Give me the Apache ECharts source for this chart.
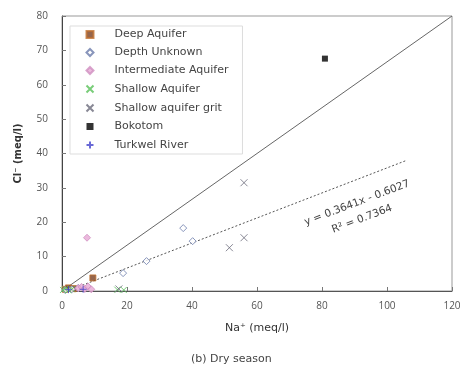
<!DOCTYPE html>
<html><head><meta charset="utf-8">
<script src="https://cdn.jsdelivr.net/npm/echarts@6/dist/echarts.min.js"></script>
<style>html,body{margin:0;padding:0;background:#fff}#c{width:465px;height:373px}</style>
</head><body><div id="c"></div>
<script>
const deepAquifer = [[1,0.5],[2,0.9],[3.5,0.7],[9.5,3.8]];
const depthUnknown = [[1,0.3],[3,0.5],[5,0.9],[18.8,5.2],[26,8.7],[37.3,18.3],[40.2,14.5]];
const intermediateAquifer = [[7.7,15.5],[5,0.8],[6,1.2],[7,0.6],[8,1.3],[9,0.5]];
const shallowAquifer = [[0.3,0.3],[1,0.6],[2,0.2],[3,0.5],[17,0.4],[19,0.3]];
const shallowGrit = [[17.5,0.6],[51.5,12.6],[56,15.5],[56,31.5]];
const bokotom = [[80.9,67.6]];
const turkwel = [[2,0.4],[6.5,0.5]];
const refLine = [[0,0],[120,80]];
const trendSlope = 0.3641, trendIntercept = -0.6027, trendXStart = 1.66, trendXEnd = 106;
const xTicks = {min:0,max:120,interval:20};
const yTicks = {min:0,max:80,interval:10};

const trendLine = [[trendXStart, trendSlope*trendXStart+trendIntercept],[trendXEnd, trendSlope*trendXEnd+trendIntercept]];
const X = 'path://M0,0L10,10M10,0L0,10';
const PLUS = 'path://M5,0L5,10M0,5L10,5';
const F = 'DejaVu Sans';
const chart = echarts.init(document.getElementById('c'));
function sc(name, data, symbol, size, style){
  return {name, type:'scatter', data, symbol, symbolSize:size, itemStyle:style, z:3};
}
chart.setOption({
  animation:false,
  textStyle:{fontFamily:F},
  grid:{left:62,right:13,top:16,bottom:82,show:true,borderColor:'#999',borderWidth:1},
  title:{text:'(b) Dry season',top:349,left:186,textStyle:{fontSize:11,fontWeight:'normal',color:'#444',fontFamily:F}},
  legend:{orient:'vertical',left:70,top:26,itemGap:7,itemWidth:7,itemHeight:7,padding:[3,14,3,14],
    backgroundColor:'#fff',borderColor:'#ddd',borderWidth:1,
    textStyle:{fontSize:11,color:'#444',fontFamily:F,padding:[0,0,0,16]},
    data:['Deep Aquifer','Depth Unknown','Intermediate Aquifer','Shallow Aquifer','Shallow aquifer grit','Bokotom','Turkwel River']},
  xAxis:{type:'value',min:xTicks.min,max:xTicks.max,interval:xTicks.interval,
    name:'Na\u207A (meq/l)',nameLocation:'middle',nameGap:32,nameTextStyle:{fontSize:11,color:'#333',fontFamily:F},
    axisLine:{lineStyle:{color:'#555'}},axisTick:{inside:true,length:4,lineStyle:{color:'#777'}},
    axisLabel:{fontSize:10,color:'#555',margin:10,fontFamily:'Open Sans'},splitLine:{show:false}},
  yAxis:{type:'value',min:yTicks.min,max:yTicks.max,interval:yTicks.interval,
    name:'Cl\u207B (meq/l)',nameLocation:'middle',nameGap:39,nameTextStyle:{fontSize:10,fontWeight:'bold',color:'#333',fontFamily:F},
    axisLine:{show:true,lineStyle:{color:'#444'}},axisTick:{show:true,inside:true,length:4,lineStyle:{color:'#777'}},
    axisLabel:{fontSize:10,color:'#555',margin:14,fontFamily:'Open Sans'},splitLine:{show:false}},
  series:[
    {type:'line',data:refLine,symbol:'none',silent:true,lineStyle:{color:'#666',width:1},z:2},
    {type:'line',data:trendLine,symbol:'none',silent:true,lineStyle:{color:'#555',width:1,type:[2,2]},z:2},
    sc('Deep Aquifer',deepAquifer,'rect',6,{color:'#7a4020',borderColor:'#c07030',borderWidth:1}),
    sc('Depth Unknown',depthUnknown,'diamond',7,{color:'#fff',borderColor:'#6a7aaa',borderWidth:1}),
    sc('Intermediate Aquifer',intermediateAquifer,'diamond',7,{color:'#e6a8d4',borderColor:'#d090c0',borderWidth:1}),
    sc('Shallow Aquifer',shallowAquifer,X,6,{color:'none',borderColor:'#58c058',borderWidth:1}),
    sc('Shallow aquifer grit',shallowGrit,X,7,{color:'none',borderColor:'#6a6a7a',borderWidth:1}),
    sc('Bokotom',bokotom,'rect',6,{color:'#000'}),
    sc('Turkwel River',turkwel,PLUS,7,{color:'none',borderColor:'#4444cc',borderWidth:1})
  ],
  graphic:[
    {type:'text',x:357,y:203,rotation:0.36,style:{text:'y = 0.3641x - 0.6027',fontSize:10.5,fill:'#444',fontFamily:F,align:'center',verticalAlign:'middle'}},
    {type:'text',x:362,y:219,rotation:0.36,style:{text:'R\u00B2 = 0.7364',fontSize:10.5,fill:'#444',fontFamily:F,align:'center',verticalAlign:'middle'}}
  ]
});
</script></body></html>
